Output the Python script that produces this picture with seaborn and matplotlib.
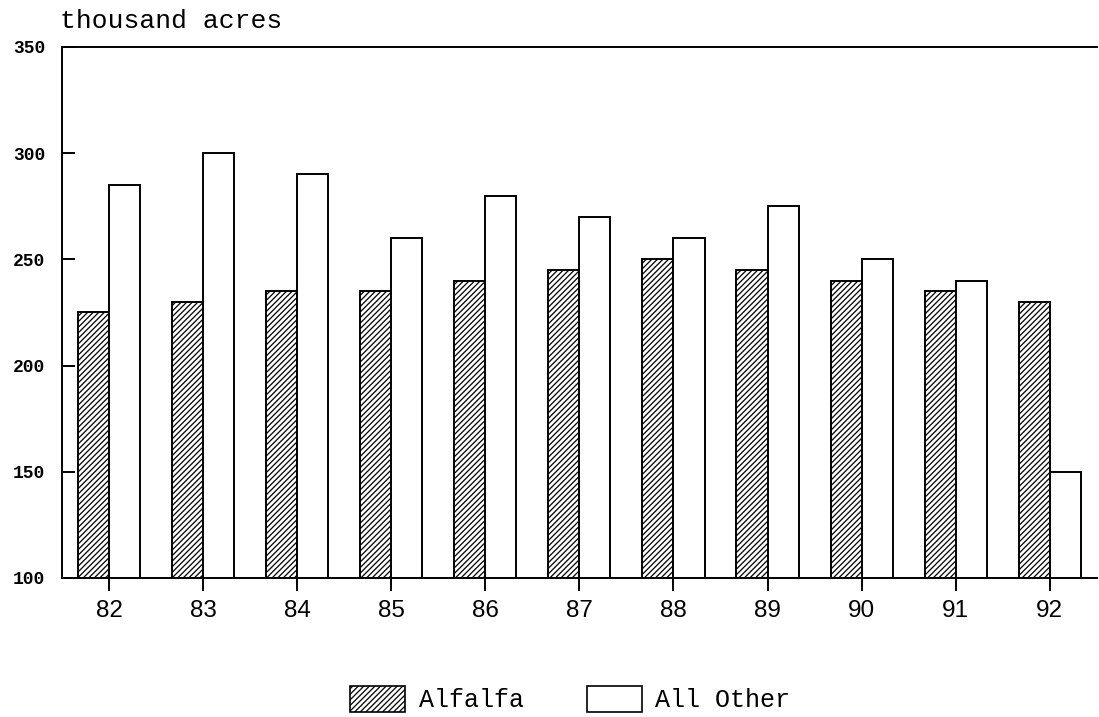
import pandas as pd
import seaborn as sns
import matplotlib.pyplot as plt
from matplotlib.patches import Patch

# data (thousand acres)
years = ['82', '83', '84', '85', '86', '87', '88', '89', '90', '91', '92']
alfalfa = [225, 230, 235, 235, 240, 245, 250, 245, 240, 235, 230]
all_other = [285, 300, 290, 260, 280, 270, 260, 275, 250, 240, 150]
series = ['Alfalfa', 'All Other']

df = pd.DataFrame({
    'year': years * 2,
    'acres': alfalfa + all_other,
    'crop': [series[0]] * len(years) + [series[1]] * len(years),
})

sns.set_style('ticks')
plt.rcParams['hatch.linewidth'] = 0.9
plt.rcParams['text.color'] = 'black'
mono = ['Liberation Mono', 'DejaVu Sans Mono']

fig = plt.figure(figsize=(10.99, 7.17), dpi=100)
ax = fig.add_axes([0.0564, 0.194, 0.9416, 0.7405])

sns.barplot(data=df, x='year', y='acres', hue='crop', order=years,
            hue_order=series, palette=['white', 'white'], width=0.66,
            edgecolor='black', linewidth=1.4, saturation=1, ax=ax,
            legend=False)

# hatch the alfalfa bars (first hue level)
n = len(years)
for i, bar in enumerate(ax.patches[:n * 2]):
    if i < n:
        bar.set_hatch('//////')

ax.set_ylim(100, 350)
ax.set_xlim(-0.5, n - 0.5)
ax.set_yticks(range(100, 351, 50))
ax.set_xlabel('')
ax.set_ylabel('')

for side in ['left', 'top', 'bottom']:
    ax.spines[side].set_visible(True)
    ax.spines[side].set_color('black')
    ax.spines[side].set_linewidth(1.4)
ax.spines['right'].set_visible(False)

ax.tick_params(axis='y', direction='in', length=9, width=1.4, left=True,
               right=False, pad=12, labelsize=13, color='black',
               labelcolor='black')
ax.tick_params(axis='x', direction='out', length=9, width=1.4, bottom=True,
               pad=7, labelsize=17.5, color='black', labelcolor='black')
for lab in ax.get_yticklabels():
    lab.set_family(mono)
    lab.set_fontweight('bold')
for lab in ax.get_xticklabels():
    lab.set_family('Liberation Sans')

fig.text(0.055, 0.971, 'thousand acres', family=mono, fontsize=19,
         ha='left', va='center', color='black')

handles = [Patch(facecolor='white', edgecolor='black', hatch='//////',
                 linewidth=1.2),
           Patch(facecolor='white', edgecolor='black', linewidth=1.2)]
fig.legend(handles, series, loc='center', bbox_to_anchor=(0.519, 0.025),
           ncol=2, frameon=False, handlelength=2.2, handleheight=1.2,
           columnspacing=2.5, handletextpad=0.55,
           prop={'family': mono, 'size': 18})

fig.savefig('out.png', dpi=100)
